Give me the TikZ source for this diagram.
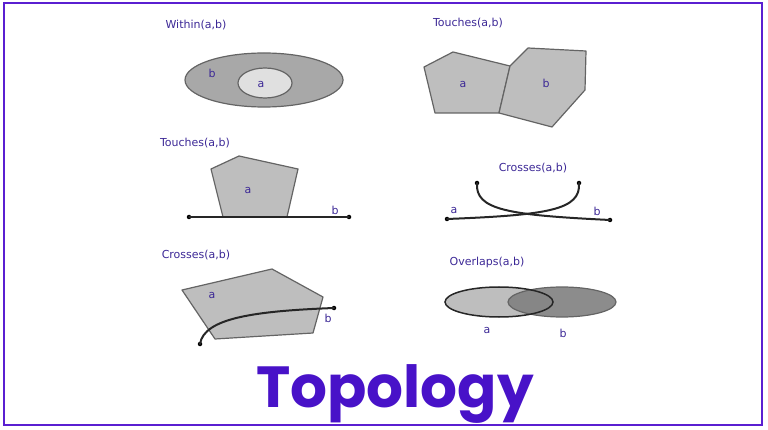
\documentclass[tikz,border=0pt]{standalone}
\usepackage{fontspec}
\setmainfont{DejaVu Sans}
\newfontfamily\titlefont{Poppins}
\definecolor{frame}{RGB}{90,31,209}
\definecolor{titlec}{RGB}{72,18,200}
\definecolor{labc}{RGB}{60,40,150}
\definecolor{shapeedge}{RGB}{100,100,100}
\definecolor{fillg}{RGB}{190,190,190}
\definecolor{filld}{RGB}{168,168,168}
\definecolor{filll}{RGB}{224,224,224}
\definecolor{fillo}{RGB}{128,128,128}
\tikzset{
  lab/.style={text=labc,font=\fontsize{11}{13}\selectfont,inner sep=0pt},
  shp/.style={draw=shapeedge,line width=1.2pt,fill=fillg,line join=round},
  crv/.style={draw=black!85,line width=2pt,line cap=round},
  endpt/.style={circle,fill=black,inner sep=0pt,minimum size=4.5pt}
}
\begin{document}
\begin{tikzpicture}[x=1pt,y=-1pt]
\useasboundingbox (0,0) rectangle (768,430);
\draw[frame,line width=2.5pt] (4,3) rectangle (762,425);

% Within
\node[lab] (t1) at (196,25) {Within(a,b)};
\draw[shp,fill=filld] (264,80) ellipse [x radius=79,y radius=27];
\draw[shp,fill=filll] (265,83) ellipse [x radius=27,y radius=15];
\node[lab] (w1b) at (212,73) {b};
\node[lab] (w1a) at (261,84) {a};

% Touches top right
\node[lab] (t2) at (468,23) {Touches(a,b)};
\draw[shp] (424,67) -- (453,52) -- (510,66) -- (499,113) -- (435,113) -- cycle;
\draw[shp] (510,66) -- (528,48) -- (586,51) -- (585,90) -- (552,127) -- (499,113) -- cycle;
\node[lab] (t2a) at (463,84) {a};
\node[lab] (t2b) at (546,83) {b};

% Touches middle left
\node[lab] (t3) at (195,143) {Touches(a,b)};
\draw[shp] (211,169) -- (239,156) -- (298,169) -- (287,217) -- (223,217) -- cycle;
\node[endpt] (l1) at (189,217) {};
\node[endpt] (l2) at (349,217) {};
\draw[crv,line width=1.5pt] (l1.center) -- (l2.center);
\node[lab] (t3a) at (248,190) {a};
\node[lab] (t3b) at (335,210) {b};

% Crosses right
\node[lab] (t4) at (533,168) {Crosses(a,b)};
\node[endpt] (c1s) at (477,183) {};
\node[endpt] (c1e) at (610,220) {};
\node[endpt] (c2s) at (579,183) {};
\node[endpt] (c2e) at (447,219) {};
\draw[crv] (c1s.center) .. controls (475,210) and (508,215) .. (c1e.center);
\draw[crv] (c2s.center) .. controls (581,210) and (548,215) .. (c2e.center);
\node[lab] (t4a) at (454,210) {a};
\node[lab] (t4b) at (597,211) {b};

% Crosses bottom left
\node[lab] (t5) at (196,255) {Crosses(a,b)};
\draw[shp] (182,290) -- (272,269) -- (323,297) -- (313,333) -- (215,339) -- cycle;
\node[endpt] (c3s) at (200,344) {};
\node[endpt] (c3e) at (334,308) {};
\draw[crv] (c3s.center) .. controls (204,318) and (255,311) .. (c3e.center);
\node[lab] (t5a) at (212,295) {a};
\node[lab] (t5b) at (328,318) {b};

% Overlaps
\node[lab] (t6) at (487,262) {Overlaps(a,b)};
\fill[fillg] (499,302) ellipse [x radius=54,y radius=15];
\fill[fillo,opacity=0.9] (562,302) ellipse [x radius=54,y radius=15];
\draw[shapeedge,line width=1.2pt] (562,302) ellipse [x radius=54,y radius=15];
\draw[black!85,line width=1.5pt] (499,302) ellipse [x radius=54,y radius=15];
\node[lab] (t6a) at (487,330) {a};
\node[lab] (t6b) at (563,333) {b};

% Title
\node[text=titlec,font=\titlefont\bfseries\fontsize{58}{60}\selectfont,inner sep=0pt,anchor=base] (title) at (395,407) {Topology};
\end{tikzpicture}
\end{document}
